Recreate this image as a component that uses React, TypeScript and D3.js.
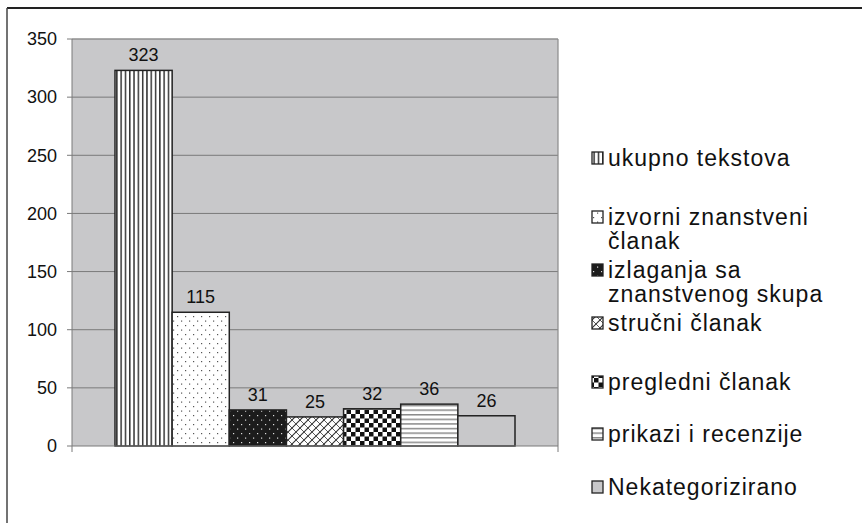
import React from "react";
import * as d3 from "d3";

const seriesNames = [
  "ukupno tekstova",
  "izvorni znanstveni članak",
  "izlaganja sa znanstvenog skupa",
  "stručni članak",
  "pregledni članak",
  "prikazi i recenzije",
  "Nekategorizirano",
];
const seriesValues = [323, 115, 31, 25, 32, 36, 26];
const legendLines = [
  ["ukupno tekstova"],
  ["izvorni znanstveni", "članak"],
  ["izlaganja sa", "znanstvenog skupa"],
  ["stručni članak"],
  ["pregledni članak"],
  ["prikazi i recenzije"],
  ["Nekategorizirano"],
];
const yTickValues = [0, 50, 100, 150, 200, 250, 300, 350];

const W = 862;
const H = 523;
const plot = { left: 72, right: 558, top: 39, bottom: 446 };
const legendRowY = [158, 217, 270, 323, 382, 434, 487];
const FONT = "Liberation Sans, Arial, sans-serif";

const fills = ["url(#pVert)", "url(#pDots)", "url(#pDarkDots)", "url(#pCross)", "url(#pCheck)", "url(#pHoriz)", "#c8c8ca"];

export default function App() {
  const y = d3.scaleLinear().domain([0, 350]).range([plot.bottom, plot.top]);
  const x = d3
    .scaleBand<string>()
    .domain(seriesNames)
    .range([plot.left, plot.right])
    .paddingInner(0)
    .paddingOuter(0.7525);

  return (
    <div style={{ position: "absolute", left: 0, top: 0 }}>
      <svg width={W} height={H} style={{ display: "block", background: "#fff" }}>
        <defs>
          <pattern id="pVert" width="4.3" height="4" patternUnits="userSpaceOnUse">
            <rect width="4.3" height="4" fill="#fff" />
            <rect x="0" width="1.5" height="4" fill="#333" />
          </pattern>
          <pattern id="pDots" width="8" height="9" patternUnits="userSpaceOnUse">
            <rect width="8" height="9" fill="#fff" />
            <rect x="1" y="1" width="1.2" height="1.2" fill="#555" />
            <rect x="5" y="5.5" width="1.2" height="1.2" fill="#555" />
          </pattern>
          <pattern id="pDarkDots" width="8" height="9" patternUnits="userSpaceOnUse">
            <rect width="8" height="9" fill="#1c1c1c" />
            <rect x="1" y="1" width="1.2" height="1.2" fill="#ddd" />
            <rect x="5" y="5.5" width="1.2" height="1.2" fill="#ddd" />
          </pattern>
          <pattern id="pCross" width="8" height="8" patternUnits="userSpaceOnUse">
            <rect width="8" height="8" fill="#fff" />
            <path d="M0,8 L8,0 M-2,2 L2,-2 M6,10 L10,6" stroke="#333" strokeWidth="1.1" />
            <path d="M0,0 L8,8 M-2,6 L2,10 M6,-2 L10,2" stroke="#333" strokeWidth="0.8" />
          </pattern>
          <pattern id="pCheck" width="9" height="9" patternUnits="userSpaceOnUse">
            <rect width="9" height="9" fill="#fff" />
            <rect x="0" y="0" width="4.5" height="4.5" fill="#111" />
            <rect x="4.5" y="4.5" width="4.5" height="4.5" fill="#111" />
          </pattern>
          <pattern id="pHoriz" width="4" height="4.6" patternUnits="userSpaceOnUse">
            <rect width="4" height="4.6" fill="#fff" />
            <rect y="0" width="4" height="1.5" fill="#8a8a8a" />
          </pattern>
        </defs>

        {/* outer frame */}
        <line x1={7} y1={8} x2={W} y2={8} stroke="#222" strokeWidth={1.8} />
        <line x1={7} y1={8} x2={7} y2={H} stroke="#444" strokeWidth={1.5} />

        {/* plot background */}
        <rect
          x={plot.left}
          y={plot.top}
          width={plot.right - plot.left}
          height={plot.bottom - plot.top}
          fill="#c8c8ca"
        />
        {/* grid */}
        {yTickValues.map((t) => (
          <line
            key={"g" + t}
            x1={plot.left - 5}
            x2={t === 0 ? plot.left : plot.right}
            y1={y(t)}
            y2={y(t)}
            stroke="#7a7a7a"
            strokeWidth={1}
          />
        ))}
        {/* plot border top/right */}
        <line x1={plot.left} x2={plot.right} y1={plot.top} y2={plot.top} stroke="#9a9a9a" strokeWidth={1.2} />
        <line x1={plot.right} x2={plot.right} y1={plot.top} y2={plot.bottom} stroke="#8a8a8a" strokeWidth={1.2} />
        {/* y axis */}
        <line x1={plot.left} x2={plot.left} y1={plot.top} y2={plot.bottom} stroke="#7a7a7a" strokeWidth={1} />
        {yTickValues.map((t) => (
          <text
            key={"t" + t}
            x={57}
            y={y(t)}
            dy="0.35em"
            textAnchor="end"
            fontFamily={FONT}
            fontSize={18}
            fill="#111"
          >
            {t}
          </text>
        ))}

        {/* bars */}
        {seriesNames.map((s, i) => (
          <g key={s}>
            <rect
              x={x(s)}
              y={y(seriesValues[i])}
              width={x.bandwidth()}
              height={y(0) - y(seriesValues[i])}
              fill={fills[i]}
              stroke="#222"
              strokeWidth={1.5}
            />
            <text
              x={(x(s) as number) + x.bandwidth() / 2}
              y={y(seriesValues[i]) - 9}
              textAnchor="middle"
              fontFamily={FONT}
              fontSize={18}
              fill="#111"
            >
              {seriesValues[i]}
            </text>
          </g>
        ))}

        {/* x axis */}
        <line x1={plot.left} x2={plot.right} y1={plot.bottom} y2={plot.bottom} stroke="#7a7a7a" strokeWidth={1} />
        <line x1={plot.left} x2={plot.left} y1={plot.bottom} y2={plot.bottom + 6} stroke="#7a7a7a" strokeWidth={1} />
        <line x1={plot.right} x2={plot.right} y1={plot.bottom} y2={plot.bottom + 6} stroke="#7a7a7a" strokeWidth={1} />

        {/* legend */}
        {seriesNames.map((s, i) => (
          <g key={"l" + s}>
            <rect
              x={592}
              y={legendRowY[i] - 6}
              width={11}
              height={12}
              fill={fills[i]}
              stroke="#222"
              strokeWidth={1.3}
            />
            {legendLines[i].map((ln, j) => (
              <text
                key={j}
                x={608}
                y={legendRowY[i] + j * 24}
                dy="0.36em"
                fontFamily={FONT}
                fontSize={23}
                letterSpacing={1}
                fill="#111"
              >
                {ln}
              </text>
            ))}
          </g>
        ))}
      </svg>
    </div>
  );
}
